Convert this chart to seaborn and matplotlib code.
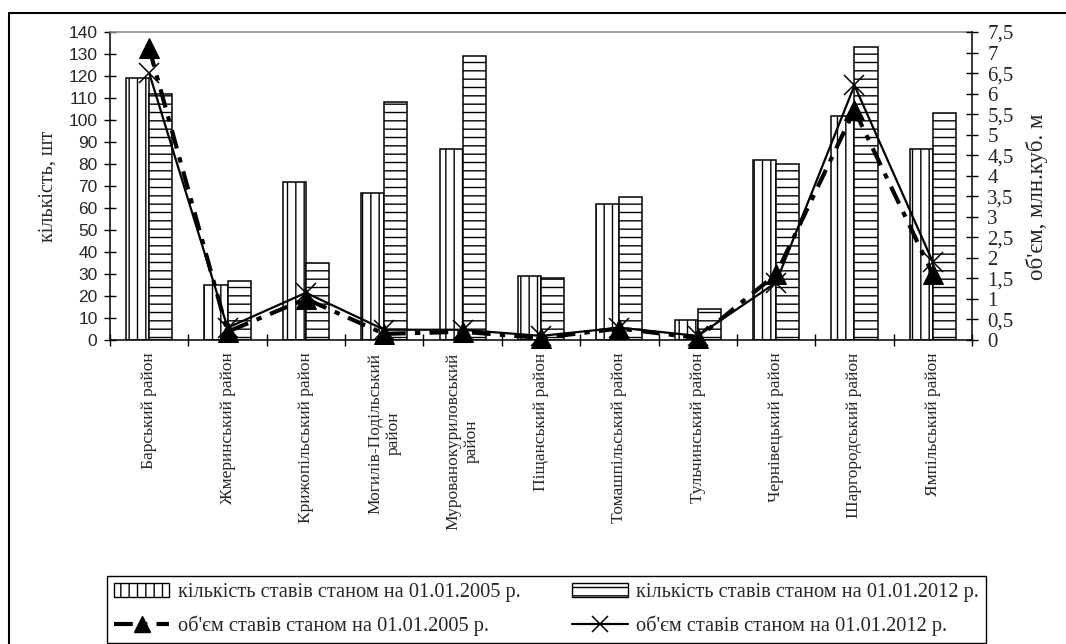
import numpy as np
import pandas as pd
import matplotlib
matplotlib.use("Agg")
import matplotlib.pyplot as plt
import seaborn as sns
from matplotlib.patches import Patch
from matplotlib.lines import Line2D

# Districts of Vinnytsia region
districts = [
    "Барський район", "Жмеринський район", "Крижопільський район",
    "Могилів-Подільський\nрайон", "Мурованокуриловський\nрайон",
    "Піщанський район", "Томашпільський район", "Тульчинський район",
    "Чернівецький район", "Шаргородський район", "Ямпільський район",
]
# number of ponds, pcs
ponds_2005 = [119, 25, 72, 67, 87, 29, 62, 9, 82, 102, 87]
ponds_2012 = [112, 27, 35, 108, 129, 28, 65, 14, 80, 133, 103]
# volume of ponds, mln cubic metres
volume_2005 = [7.1, 0.2, 1.0, 0.15, 0.2, 0.05, 0.28, 0.05, 1.6, 5.6, 1.6]
volume_2012 = [6.5, 0.3, 1.15, 0.25, 0.25, 0.1, 0.3, 0.1, 1.4, 6.2, 1.9]

count_ticks = list(range(0, 141, 10))
volume_ticks = [0, 0.5, 1, 1.5, 2, 2.5, 3, 3.5, 4, 4.5, 5, 5.5, 6, 6.5, 7, 7.5]

lbl_cnt_05 = "кількість ставів станом на 01.01.2005 р."
lbl_cnt_12 = "кількість ставів станом на 01.01.2012 р."
lbl_vol_05 = "об'єм ставів станом на 01.01.2005 р."
lbl_vol_12 = "об'єм ставів станом на 01.01.2012 р."

sns.set_theme(style="white")
plt.rcParams["font.family"] = ["Liberation Serif", "DejaVu Serif"]
plt.rcParams["hatch.linewidth"] = 1.0

SERIF = "Liberation Serif"
SANS = "Liberation Sans"
DASH_05 = (0, (4.5, 2.2, 1.3, 2.2))

df = pd.DataFrame({
    "district": districts * 2,
    "count": ponds_2005 + ponds_2012,
    "year": [lbl_cnt_05] * len(districts) + [lbl_cnt_12] * len(districts),
})

fig = plt.figure(figsize=(10.66, 6.44), dpi=100)
ax = fig.add_axes([110 / 1066, 1 - 340 / 644, 862 / 1066, 308 / 644])

sns.barplot(data=df, x="district", y="count", hue="year", ax=ax,
            width=0.59, gap=0, dodge=True, palette=["white", "white"],
            saturation=1, edgecolor="black", linewidth=1.1,
            errorbar=None, legend=False)
for cont, hatch in zip(ax.containers, ["||", "--"]):
    for bar in cont:
        bar.set_hatch(hatch)
        bar.set_facecolor("white")
        bar.set_edgecolor("black")

ax.set_ylim(0, 140)
ax.set_yticks(count_ticks)
ax.set_yticklabels([str(t) for t in count_ticks], fontfamily=SANS,
                   fontsize=12.5)
ax.tick_params(axis="y", direction="inout", length=8, width=1, color="black",
               left=True, pad=5)
ax.set_ylabel("кількість, шт", fontfamily=SERIF, fontsize=14.5, labelpad=8)
ax.set_xlabel("")

# category labels at the centres, tick marks between the categories
pos = np.arange(len(districts))
ax.set_xticks(pos)
ax.set_xticklabels(districts, rotation=90, fontfamily=SERIF, fontsize=12.5,
                   ha="center", va="top", multialignment="center")
ax.tick_params(axis="x", which="major", length=0, pad=9)
ax.set_xticks(np.arange(-0.5, len(districts), 1), minor=True)
ax.tick_params(axis="x", which="minor", direction="inout", length=9,
               width=1, color="black", bottom=True)

for side in ["left", "bottom"]:
    ax.spines[side].set_color("black")
    ax.spines[side].set_linewidth(1.1)
ax.spines["top"].set_color("#8c8c8c")
ax.spines["top"].set_linewidth(1.2)
ax.spines["right"].set_visible(False)

ax2 = ax.twinx()
sns.lineplot(x=pos, y=volume_2005, ax=ax2, color="black", linewidth=3,
             linestyle=DASH_05, marker="^", markersize=15,
             markerfacecolor="black", markeredgecolor="black", clip_on=False)
sns.lineplot(x=pos, y=volume_2012, ax=ax2, color="black", linewidth=1.6,
             marker="x", markersize=14, markeredgewidth=1.1,
             markeredgecolor="black", clip_on=False)

ax2.set_ylim(0, 7.5)
ax2.set_yticks(volume_ticks)
ax2.set_yticklabels([f"{v:g}".replace(".", ",") for v in volume_ticks],
                    fontfamily=SERIF, fontsize=15)
ax2.tick_params(axis="y", direction="inout", length=8, width=1,
                color="black", right=True, pad=7)
ax2.set_ylabel("об'єм, млн.куб. м", fontfamily=SERIF, fontsize=16.5,
               labelpad=2)
ax2.yaxis.set_label_coords(1.0 + 54 / 862, 0.465)
ax2.set_xlabel("")
for side in ["left", "bottom", "top"]:
    ax2.spines[side].set_visible(False)
ax2.spines["right"].set_color("black")
ax2.spines["right"].set_linewidth(1.1)
ax.set_xlim(-0.5, len(districts) - 0.5)

# outer chart frame
fx, fy = 9 / 1066, 1 - 13 / 644
fig.add_artist(Line2D([fx, fx], [0, fy], transform=fig.transFigure,
                      color="black", linewidth=1.5))
fig.add_artist(Line2D([fx, 1], [fy, fy], transform=fig.transFigure,
                      color="black", linewidth=1.5))

handles = [
    Patch(facecolor="white", edgecolor="black", hatch="||", linewidth=1),
    Line2D([], [], color="black", linewidth=3, linestyle=DASH_05,
           marker="^", markersize=12),
    Patch(facecolor="white", edgecolor="black", hatch="--", linewidth=1),
    Line2D([], [], color="black", linewidth=1.6, marker="x",
           markersize=12, markeredgewidth=1.1),
]
labels = [lbl_cnt_05, lbl_vol_05, lbl_cnt_12, lbl_vol_12]
leg = fig.legend(handles, labels, ncol=2, loc="lower left",
                 bbox_to_anchor=(107 / 1066, 1 / 644, 879 / 1066, 69 / 644),
                 mode="expand", borderaxespad=0, frameon=True, fancybox=False,
                 edgecolor="black", framealpha=1, handlelength=2.7,
                 handletextpad=0.4, labelspacing=0.62, borderpad=0.36,
                 prop={"family": SERIF, "size": 14.7})
leg.get_frame().set_linewidth(1.0)

fig.savefig("out.png", dpi=100, facecolor="white")
